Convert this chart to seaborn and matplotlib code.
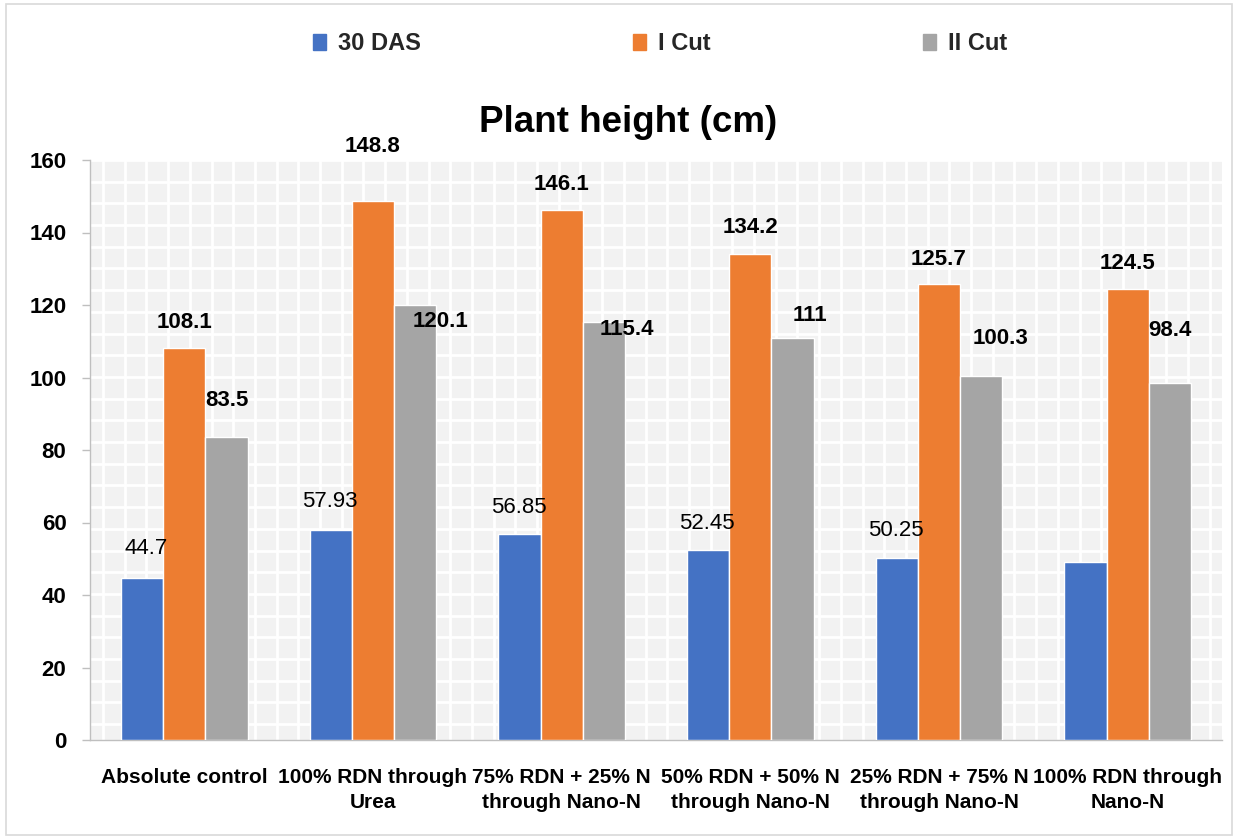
import numpy as np
import pandas as pd
import matplotlib.pyplot as plt
import seaborn as sns
from matplotlib.patches import Rectangle

sns.set_theme(style="white")
plt.rcParams["font.family"] = ["Liberation Sans", "DejaVu Sans"]

treatments = ["Absolute control", "100% RDN through\nUrea", "75% RDN + 25% N\nthrough Nano-N",
              "50% RDN + 50% N\nthrough Nano-N", "25% RDN + 75% N\nthrough Nano-N", "100% RDN through\nNano-N"]
series = ["30 DAS", "I Cut", "II Cut"]
das30 = [44.7, 57.93, 56.85, 52.45, 50.25, 49.2]
cut1 = [108.1, 148.8, 146.1, 134.2, 125.7, 124.5]
cut2 = [83.5, 120.1, 115.4, 111, 100.3, 98.4]
label_text = [["44.7", "57.93", "56.85", "52.45", "50.25", ""],
              ["108.1", "148.8", "146.1", "134.2", "125.7", "124.5"],
              ["83.5", "120.1", "115.4", "111", "100.3", "98.4"]]
colors = ["#4472C4", "#ED7D31", "#A5A5A5"]

# label offsets (pixels) from bar top centre, Excel placed them by hand
label_dx = [[4, -1, -1, -1, -1, 0], [0, 0, 0, 0, 0, 0], [0, 25, 23, 17, 19, 0]]
label_dy = [[29, 29, 26, 26, 27, 0], [26, 54, 26, 26, 25, 25], [37, -17, -8, 22, 38, 53]]

df = pd.DataFrame({
    "Treatment": treatments * 3,
    "Series": [s for s in series for _ in treatments],
    "Height": das30 + cut1 + cut2,
})

fig = plt.figure(figsize=(12.43, 8.39), dpi=100)
ax = fig.add_axes([90 / 1243, 99 / 839, 1132 / 1243, 580 / 839])
ax.set_facecolor("#F2F2F2")

sns.barplot(data=df, x="Treatment", y="Height", hue="Series", palette=colors,
            width=0.67, gap=0, ax=ax, zorder=3, saturation=1)

ax.set_xlim(-0.5, 5.5)
ax.set_ylim(0, 160)

# small-grid pattern fill of the plot area
step_y = 21.7 / 580 * 160
for y in np.arange(160, 0, -step_y):
    ax.axhline(y, color="white", lw=2, zorder=1)
step_x = 21.7 / 1132 * 6
for x in np.arange(-0.5 + 13 / 1132 * 6, 5.5, step_x):
    ax.axvline(x, color="white", lw=2, zorder=1)

for i, cont in enumerate(ax.containers):
    for j, bar in enumerate(cont):
        if not label_text[i][j]:
            continue
        ax.annotate(label_text[i][j], (bar.get_x() + bar.get_width() / 2, bar.get_height()),
                    xytext=(label_dx[i][j], label_dy[i][j]), textcoords="offset pixels",
                    ha="center", va="center", fontsize=16,
                    fontweight="normal" if i == 0 else "bold", color="black", zorder=5)

ax.set_yticks(np.arange(0, 161, 20))
ax.set_yticklabels([str(v) for v in range(0, 161, 20)], fontsize=16, fontweight="bold", color="black")
ax.set_xticks(range(6))
ax.set_xticklabels(treatments, fontsize=15, fontweight="bold", linespacing=1.4, color="black")
ax.set_xticks(np.arange(-0.5, 6, 1), minor=True)
ax.tick_params(axis="x", which="major", length=0, pad=20)
ax.tick_params(axis="x", which="minor", length=6, color="#BFBFBF", width=1)
ax.tick_params(axis="y", which="major", length=6, color="#BFBFBF", width=1, left=True, pad=11)
ax.set_xlabel("")
ax.set_ylabel("")

for side in ["top", "right"]:
    ax.spines[side].set_visible(False)
for side in ["left", "bottom"]:
    ax.spines[side].set_color("#BFBFBF")
    ax.spines[side].set_linewidth(1)

ax.legend_.remove()
handles = [Rectangle((0, 0), 1, 1, color=c) for c in colors]
fig.legend(handles, series, loc="center", bbox_to_anchor=(0.531, 0.948), ncol=3, frameon=False,
           prop={"size": 17, "weight": "bold"}, handlelength=0.55, handleheight=0.7,
           handletextpad=0.5, columnspacing=9.0)

fig.text(628 / 1243, 1 - 122 / 839, "Plant height (cm)", ha="center", va="center",
         fontsize=26.5, fontweight="bold", color="black")

fig.patches.append(Rectangle((6 / 1243, 4 / 839), 1226 / 1243, 831 / 839, transform=fig.transFigure,
                             fill=False, edgecolor="#D9D9D9", lw=1.2))

fig.savefig("out.png", dpi=100)
